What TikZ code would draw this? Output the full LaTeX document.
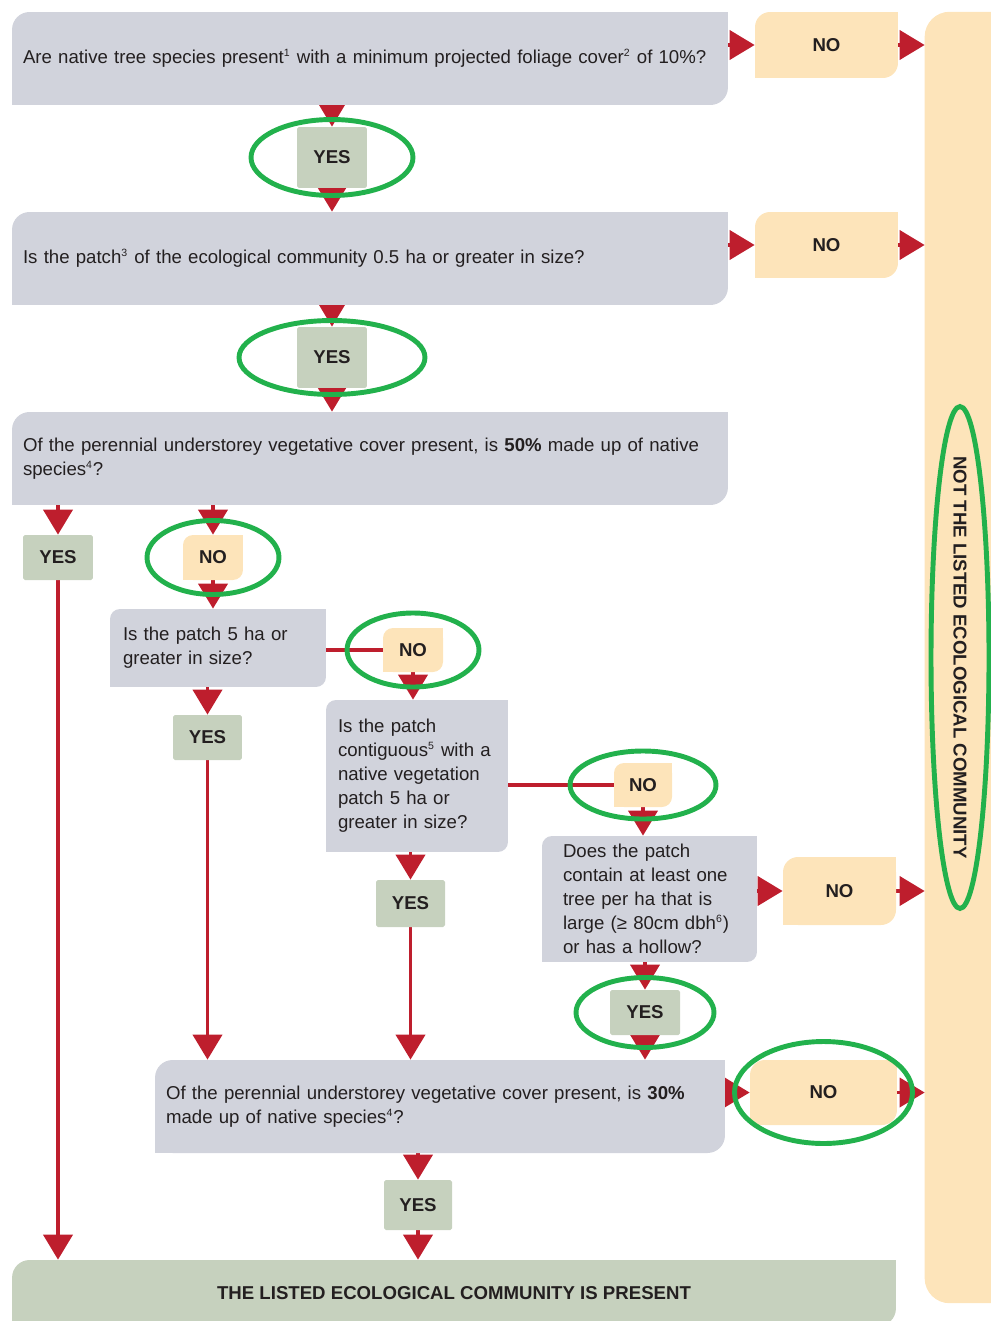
\documentclass[tikz,border=0pt]{standalone}
\usepackage{fontspec}
\setmainfont{Liberation Sans}
\usepackage{xcolor}
\usetikzlibrary{arrows.meta,backgrounds}

\definecolor{qgray}{HTML}{D1D3DC}
\definecolor{nofill}{HTML}{FDE4BA}
\definecolor{yesfill}{HTML}{C6D1BE}
\definecolor{flowred}{HTML}{BE1E2D}
\definecolor{ringgreen}{HTML}{22B14C}
\definecolor{inkgray}{HTML}{231F20}

\newcommand\fnote[1]{\textsuperscript{\fontsize{6}{6}\selectfont #1}}

\begin{document}
\fontsize{10.6}{13.7}\selectfont
\begin{tikzpicture}[x=0.02cm,y=-0.02cm,text=inkgray,
  question/.style={fill=qgray,rounded corners=0.35cm,inner xsep=0.22cm,inner ysep=0pt,align=left},
  nobox/.style={fill=nofill,rounded corners=0.3cm,font=\bfseries},
  yesbox/.style={fill=yesfill,rounded corners=1pt,font=\bfseries},
  flow/.style={draw=flowred,line width=2.2pt,-{Triangle[length=0.5cm,width=0.58cm]}},
  flowline/.style={draw=flowred,line width=2.2pt},
  ring/.style={draw=ringgreen,line width=2.8pt}]
  \useasboundingbox (0,0) rectangle (990,1321);

  % questions
  \node[question,minimum height=1.86cm,text width=13.88cm] (q1) at (370,58.5)
    {Are native tree species present\fnote{1} with a minimum projected foliage cover\fnote{2} of 10\%?};
  \node[question,minimum height=1.86cm,text width=13.88cm] (q2) at (370,258.5)
    {Is the patch\fnote{3} of the ecological community 0.5 ha or greater in size?};
  \node[question,minimum height=1.86cm,text width=13.88cm] (q3) at (370,458.5)
    {Of the perennial understorey vegetative cover present, is \textbf{50\%} made up of native\\species\fnote{4}?};
  \node[question,rounded corners=0.2cm,inner xsep=0.26cm,minimum height=1.56cm,text width=3.8cm] (q4) at (218,648)
    {Is the patch 5 ha or\\greater in size?};
  \node[question,rounded corners=0.2cm,inner xsep=0.24cm,minimum height=3.04cm,text width=3.16cm] (q5) at (417,776)
    {Is the patch\\contiguous\fnote{5} with a\\native vegetation\\patch 5 ha or\\greater in size?};
  \node[question,rounded corners=0.2cm,inner xsep=0.42cm,minimum height=2.52cm,text width=3.46cm] (q6) at (649.5,899)
    {Does the patch\\contain at least one\\tree per ha that is\\large (≥ 80cm dbh\fnote{6})\\or has a hollow?};
  \node[question,minimum height=1.86cm,text width=10.96cm] (q7) at (440,1106.5)
    {Of the perennial understorey vegetative cover present, is \textbf{30\%}\\made up of native species\fnote{4}?};

  % answers
  \node[nobox,minimum width=2.86cm,minimum height=1.32cm] (no1) at (826.5,45) {NO};
  \node[nobox,minimum width=2.86cm,minimum height=1.32cm] (no2) at (826.5,245) {NO};
  \node[nobox,rounded corners=0.2cm,minimum width=1.2cm,minimum height=0.9cm] (no3) at (213,557.5) {NO};
  \node[nobox,rounded corners=0.2cm,minimum width=1.2cm,minimum height=0.88cm] (no4) at (413,650) {NO};
  \node[nobox,rounded corners=0.2cm,minimum width=1.16cm,minimum height=0.88cm] (no5) at (643,785) {NO};
  \node[nobox,minimum width=2.26cm,minimum height=1.36cm] (no6) at (839.5,891) {NO};
  \node[nobox,minimum width=2.94cm,minimum height=1.3cm] (no7) at (823.5,1092.5) {NO};
  \node[yesbox,minimum width=1.4cm,minimum height=1.22cm] (yes1) at (332,157.5) {YES};
  \node[yesbox,minimum width=1.4cm,minimum height=1.22cm] (yes2) at (332,357.5) {YES};
  \node[yesbox,minimum width=1.4cm,minimum height=0.9cm] (yes3) at (58,557.5) {YES};
  \node[yesbox,minimum width=1.38cm,minimum height=0.9cm] (yes4) at (207.5,737.5) {YES};
  \node[yesbox,minimum width=1.38cm,minimum height=0.94cm] (yes5) at (410.5,903.5) {YES};
  \node[yesbox,minimum width=1.4cm,minimum height=0.9cm] (yes6) at (645,1012.5) {YES};
  \node[yesbox,minimum width=1.36cm,minimum height=1cm] (yes7) at (418,1205) {YES};

  % outcomes
  \node[fill=yesfill,rounded corners=0.35cm,minimum width=17.68cm,minimum height=1.32cm,font=\bfseries] (lec) at (454,1293)
    {THE LISTED ECOLOGICAL COMMUNITY IS PRESENT};
  \node[minimum width=1.4cm,minimum height=25.82cm,font=\bfseries] (notlec) at (960,657.5)
    {\rotatebox{-90}{NOT THE LISTED ECOLOGICAL COMMUNITY}};

  \begin{scope}[on background layer]
    \fill[nofill,rounded corners=0.5cm] (notlec.north west) rectangle ([xshift=1cm]notlec.south east);
    % square off top right and bottom left corners
    \foreach \n/\c in {q1/qgray,q2/qgray,q3/qgray,q4/qgray,q5/qgray,q6/qgray,q7/qgray,
        no1/nofill,no2/nofill,no3/nofill,no4/nofill,no5/nofill,no6/nofill,no7/nofill,lec/yesfill}{
      \fill[\c] (\n.north east) rectangle ++(-0.4cm,-0.4cm);
      \fill[\c] (\n.south west) rectangle ++(0.4cm,0.4cm);
    }
    % connectors
    \draw[flow] (q1.east |- no1) -- (no1.west);
    \draw[flow] (no1.east) -- (no1 -| notlec.west);
    \draw[flow] (q1.south -| yes1.north) -- (yes1.north);
    \draw[flow] (yes1.south) -- (yes1 |- q2.north);
    \draw[flow] (q2.east |- no2) -- (no2.west);
    \draw[flow] (no2.east) -- (no2 -| notlec.west);
    \draw[flow] (q2.south -| yes2.north) -- (yes2.north);
    \draw[flow] (yes2.south) -- (yes2 |- q3.north);
    \draw[flow] (q3.south -| yes3.north) -- (yes3.north);
    \draw[flow] (yes3.south) -- (yes3 |- lec.north);
    \draw[flow] (q3.south -| no3.north) -- (no3.north);
    \draw[flow] (no3.south) -- (no3 |- q4.north);
    \draw[flowline] (q4.east |- no4) -- (no4.west);
    \draw[flow] (q4.south -| yes4.north) -- (yes4.north);
    \draw[flow] (yes4.south) -- (yes4 |- q7.north);
    \draw[flow] (no4.south) -- (no4 |- q5.north);
    \draw[flowline] (q5.east |- no5) -- (no5.west);
    \draw[flow] (q5.south -| yes5.north) -- (yes5.north);
    \draw[flow] (yes5.south) -- (yes5 |- q7.north);
    \draw[flow] (no5.south) -- (no5 |- q6.north);
    \draw[flow] (q6.east |- no6) -- (no6.west);
    \draw[flow] (no6.east) -- (no6 -| notlec.west);
    \draw[flow] (q6.south -| yes6.north) -- (yes6.north);
    \draw[flow] (yes6.south) -- (yes6 |- q7.north);
    \draw[flow] (q7.east |- no7) -- (no7.west);
    \draw[flow] (no7.east) -- (no7 -| notlec.west);
    \draw[flow] (q7.south -| yes7.north) -- (yes7.north);
    \draw[flow] (yes7.south) -- (yes7 |- lec.north);
  \end{scope}

  % green rings
  \draw[ring] (yes1) ellipse [x radius=1.62cm,y radius=0.76cm];
  \draw[ring] (yes2) ellipse [x radius=1.86cm,y radius=0.74cm];
  \draw[ring] (no3) ellipse [x radius=1.32cm,y radius=0.74cm];
  \draw[ring] (no4) ellipse [x radius=1.32cm,y radius=0.74cm];
  \draw[ring] (no5) ellipse [x radius=1.46cm,y radius=0.68cm];
  \draw[ring] (yes6) ellipse [x radius=1.38cm,y radius=0.7cm];
  \draw[ring] (no7) ellipse [x radius=1.78cm,y radius=1.02cm];
  \draw[ring] (notlec) ellipse [x radius=0.58cm,y radius=5.02cm];
\end{tikzpicture}
\end{document}
